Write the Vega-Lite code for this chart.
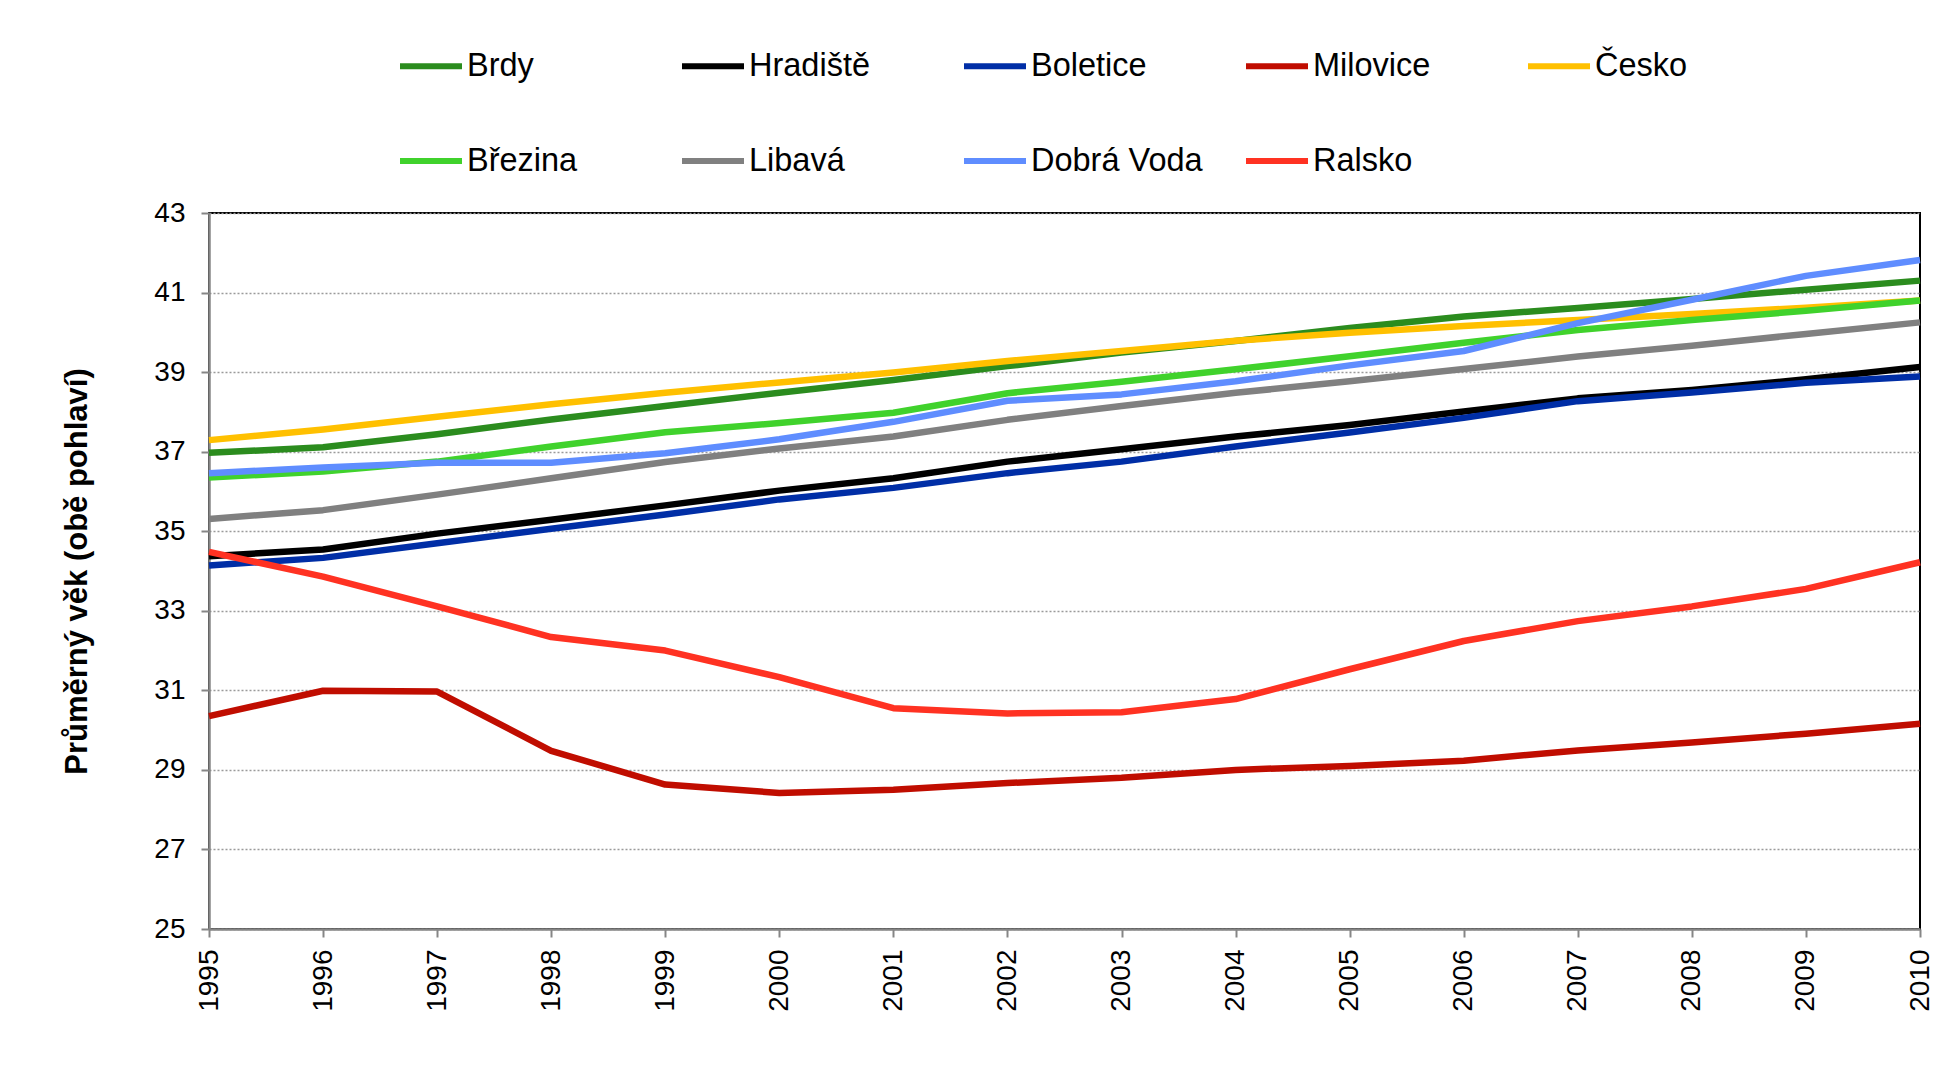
{
  "$schema": "https://vega.github.io/schema/vega-lite/v6.json",
  "autosize": "none",
  "width": 1711,
  "height": 716,
  "padding": {"left": 209, "top": 213, "right": 19, "bottom": 162},
  "background": "white",
  "config": {
    "font": "Liberation Sans",
    "view": {"stroke": "black", "strokeWidth": 2}
  },
  "data": {
    "values": [
      {"year":1995,"region":"Brdy","age":36.97},{"year":1996,"region":"Brdy","age":37.11},{"year":1997,"region":"Brdy","age":37.44},{"year":1998,"region":"Brdy","age":37.81},{"year":1999,"region":"Brdy","age":38.15},{"year":2000,"region":"Brdy","age":38.48},{"year":2001,"region":"Brdy","age":38.8},{"year":2002,"region":"Brdy","age":39.15},{"year":2003,"region":"Brdy","age":39.49},{"year":2004,"region":"Brdy","age":39.78},{"year":2005,"region":"Brdy","age":40.11},{"year":2006,"region":"Brdy","age":40.4},{"year":2007,"region":"Brdy","age":40.61},{"year":2008,"region":"Brdy","age":40.84},{"year":2009,"region":"Brdy","age":41.07},{"year":2010,"region":"Brdy","age":41.3},
      {"year":1995,"region":"Hradiště","age":34.37},{"year":1996,"region":"Hradiště","age":34.54},{"year":1997,"region":"Hradiště","age":34.94},{"year":1998,"region":"Hradiště","age":35.29},{"year":1999,"region":"Hradiště","age":35.65},{"year":2000,"region":"Hradiště","age":36.02},{"year":2001,"region":"Hradiště","age":36.33},{"year":2002,"region":"Hradiště","age":36.75},{"year":2003,"region":"Hradiště","age":37.06},{"year":2004,"region":"Hradiště","age":37.38},{"year":2005,"region":"Hradiště","age":37.67},{"year":2006,"region":"Hradiště","age":38.01},{"year":2007,"region":"Hradiště","age":38.34},{"year":2008,"region":"Hradiště","age":38.55},{"year":2009,"region":"Hradiště","age":38.82},{"year":2010,"region":"Hradiště","age":39.13},
      {"year":1995,"region":"Boletice","age":34.14},{"year":1996,"region":"Boletice","age":34.33},{"year":1997,"region":"Boletice","age":34.7},{"year":1998,"region":"Boletice","age":35.06},{"year":1999,"region":"Boletice","age":35.42},{"year":2000,"region":"Boletice","age":35.8},{"year":2001,"region":"Boletice","age":36.09},{"year":2002,"region":"Boletice","age":36.46},{"year":2003,"region":"Boletice","age":36.75},{"year":2004,"region":"Boletice","age":37.13},{"year":2005,"region":"Boletice","age":37.48},{"year":2006,"region":"Boletice","age":37.85},{"year":2007,"region":"Boletice","age":38.27},{"year":2008,"region":"Boletice","age":38.49},{"year":2009,"region":"Boletice","age":38.73},{"year":2010,"region":"Boletice","age":38.89},
      {"year":1995,"region":"Milovice","age":30.35},{"year":1996,"region":"Milovice","age":30.99},{"year":1997,"region":"Milovice","age":30.97},{"year":1998,"region":"Milovice","age":29.48},{"year":1999,"region":"Milovice","age":28.63},{"year":2000,"region":"Milovice","age":28.42},{"year":2001,"region":"Milovice","age":28.5},{"year":2002,"region":"Milovice","age":28.67},{"year":2003,"region":"Milovice","age":28.8},{"year":2004,"region":"Milovice","age":29.0},{"year":2005,"region":"Milovice","age":29.1},{"year":2006,"region":"Milovice","age":29.23},{"year":2007,"region":"Milovice","age":29.49},{"year":2008,"region":"Milovice","age":29.69},{"year":2009,"region":"Milovice","age":29.91},{"year":2010,"region":"Milovice","age":30.16},
      {"year":1995,"region":"Česko","age":37.29},{"year":1996,"region":"Česko","age":37.56},{"year":1997,"region":"Česko","age":37.88},{"year":1998,"region":"Česko","age":38.19},{"year":1999,"region":"Česko","age":38.48},{"year":2000,"region":"Česko","age":38.74},{"year":2001,"region":"Česko","age":38.99},{"year":2002,"region":"Česko","age":39.28},{"year":2003,"region":"Česko","age":39.53},{"year":2004,"region":"Česko","age":39.79},{"year":2005,"region":"Česko","age":39.99},{"year":2006,"region":"Česko","age":40.16},{"year":2007,"region":"Česko","age":40.31},{"year":2008,"region":"Česko","age":40.46},{"year":2009,"region":"Česko","age":40.62},{"year":2010,"region":"Česko","age":40.8},
      {"year":1995,"region":"Březina","age":36.35},{"year":1996,"region":"Březina","age":36.5},{"year":1997,"region":"Březina","age":36.75},{"year":1998,"region":"Březina","age":37.13},{"year":1999,"region":"Březina","age":37.49},{"year":2000,"region":"Březina","age":37.72},{"year":2001,"region":"Březina","age":37.98},{"year":2002,"region":"Březina","age":38.47},{"year":2003,"region":"Březina","age":38.76},{"year":2004,"region":"Březina","age":39.07},{"year":2005,"region":"Březina","age":39.4},{"year":2006,"region":"Březina","age":39.74},{"year":2007,"region":"Březina","age":40.06},{"year":2008,"region":"Březina","age":40.31},{"year":2009,"region":"Březina","age":40.54},{"year":2010,"region":"Březina","age":40.8},
      {"year":1995,"region":"Libavá","age":35.31},{"year":1996,"region":"Libavá","age":35.53},{"year":1997,"region":"Libavá","age":35.92},{"year":1998,"region":"Libavá","age":36.33},{"year":1999,"region":"Libavá","age":36.74},{"year":2000,"region":"Libavá","age":37.08},{"year":2001,"region":"Libavá","age":37.38},{"year":2002,"region":"Libavá","age":37.8},{"year":2003,"region":"Libavá","age":38.15},{"year":2004,"region":"Libavá","age":38.48},{"year":2005,"region":"Libavá","age":38.77},{"year":2006,"region":"Libavá","age":39.08},{"year":2007,"region":"Libavá","age":39.39},{"year":2008,"region":"Libavá","age":39.66},{"year":2009,"region":"Libavá","age":39.96},{"year":2010,"region":"Libavá","age":40.25},
      {"year":1995,"region":"Dobrá Voda","age":36.46},{"year":1996,"region":"Dobrá Voda","age":36.6},{"year":1997,"region":"Dobrá Voda","age":36.72},{"year":1998,"region":"Dobrá Voda","age":36.72},{"year":1999,"region":"Dobrá Voda","age":36.96},{"year":2000,"region":"Dobrá Voda","age":37.31},{"year":2001,"region":"Dobrá Voda","age":37.75},{"year":2002,"region":"Dobrá Voda","age":38.28},{"year":2003,"region":"Dobrá Voda","age":38.44},{"year":2004,"region":"Dobrá Voda","age":38.77},{"year":2005,"region":"Dobrá Voda","age":39.17},{"year":2006,"region":"Dobrá Voda","age":39.53},{"year":2007,"region":"Dobrá Voda","age":40.23},{"year":2008,"region":"Dobrá Voda","age":40.82},{"year":2009,"region":"Dobrá Voda","age":41.42},{"year":2010,"region":"Dobrá Voda","age":41.82},
      {"year":1995,"region":"Ralsko","age":34.48},{"year":1996,"region":"Ralsko","age":33.86},{"year":1997,"region":"Ralsko","age":33.11},{"year":1998,"region":"Ralsko","age":32.34},{"year":1999,"region":"Ralsko","age":32.0},{"year":2000,"region":"Ralsko","age":31.33},{"year":2001,"region":"Ralsko","age":30.55},{"year":2002,"region":"Ralsko","age":30.42},{"year":2003,"region":"Ralsko","age":30.45},{"year":2004,"region":"Ralsko","age":30.78},{"year":2005,"region":"Ralsko","age":31.53},{"year":2006,"region":"Ralsko","age":32.24},{"year":2007,"region":"Ralsko","age":32.74},{"year":2008,"region":"Ralsko","age":33.11},{"year":2009,"region":"Ralsko","age":33.55},{"year":2010,"region":"Ralsko","age":34.22}
    ]
  },
  "mark": {"type": "line", "strokeWidth": 6.5, "strokeCap": "butt", "strokeJoin": "round"},
  "encoding": {
    "x": {
      "field": "year",
      "type": "quantitative",
      "scale": {"domain": [1995, 2010], "nice": false, "zero": false},
      "axis": {
        "title": null,
        "values": [1995,1996,1997,1998,1999,2000,2001,2002,2003,2004,2005,2006,2007,2008,2009,2010],
        "format": "d",
        "labelAngle": -90,
        "labelFontSize": 28,
        "labelColor": "black",
        "labelPadding": 12,
        "labelFlush": false,
        "labelOverlap": false,
        "grid": false,
        "domainColor": "#868686",
        "domainWidth": 2.5,
        "tickColor": "#868686",
        "tickWidth": 2,
        "tickSize": 8
      }
    },
    "y": {
      "field": "age",
      "type": "quantitative",
      "scale": {"domain": [25, 43], "nice": false, "zero": false},
      "axis": {
        "title": "Průměrný věk (obě pohlaví)",
        "titleFontSize": 31,
        "titleFontWeight": "bold",
        "titleColor": "black",
        "titlePadding": 60,
        "values": [25,27,29,31,33,35,37,39,41,43],
        "labelFontSize": 28,
        "labelColor": "black",
        "labelPadding": 16,
        "labelFlush": false,
        "labelOverlap": false,
        "grid": true,
        "gridColor": "#9a9a9a",
        "gridDash": [2, 2],
        "gridWidth": 1.5,
        "domainColor": "#868686",
        "domainWidth": 2.5,
        "tickColor": "#868686",
        "tickWidth": 2,
        "tickSize": 8
      }
    },
    "color": {
      "field": "region",
      "type": "nominal",
      "sort": ["Brdy","Hradiště","Boletice","Milovice","Česko","Březina","Libavá","Dobrá Voda","Ralsko"],
      "scale": {
        "domain": ["Brdy","Hradiště","Boletice","Milovice","Česko","Březina","Libavá","Dobrá Voda","Ralsko"],
        "range": ["#2b8c1e","#000000","#002ea6","#c00d00","#ffc000","#40d22c","#808080","#5f8dff","#ff3222"]
      },
      "legend": {
        "title": null,
        "orient": "none",
        "legendX": 188,
        "legendY": -181,
        "columns": 5,
        "direction": "horizontal",
        "gridAlign": "all",
        "columnPadding": 31,
        "rowPadding": 44,
        "symbolType": "stroke",
        "symbolSize": 3844,
        "symbolStrokeWidth": 6,
        "labelFontSize": 32.5,
        "labelColor": "black",
        "labelOffset": 2,
        "labelLimit": 400
      }
    }
  }
}
